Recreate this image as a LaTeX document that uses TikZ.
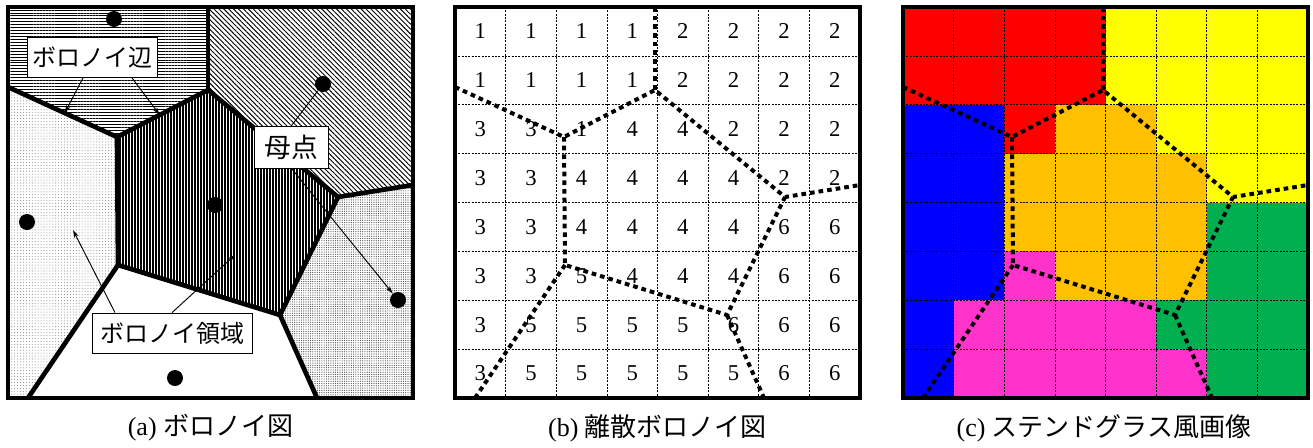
\documentclass[tikz,border=0pt]{standalone}
\usepackage{fontspec}
\setmainfont{Liberation Serif}
\newfontfamily\jpfont{Noto Sans CJK JP}
\usetikzlibrary{arrows.meta,calc,patterns.meta}
\definecolor{cell1}{HTML}{FF0000}
\definecolor{cell2}{HTML}{FFFF00}
\definecolor{cell3}{HTML}{0000FF}
\definecolor{cell4}{HTML}{FFC000}
\definecolor{cell5}{HTML}{FF33CC}
\definecolor{cell6}{HTML}{00B050}
\tikzset{
  panel frame/.style={line width=3pt},
  cell edge/.style={line width=3.5pt, line join=miter},
  dotted edge/.style={line width=3pt, dash pattern=on 3.5pt off 3pt},
  grid line/.style={line width=0.5pt, dash pattern=on 1.5pt off 1pt},
  site/.style={circle, fill, inner sep=0pt, minimum size=12pt},
  label box/.style={draw, fill=white, line width=0.6pt, inner sep=0pt,
    minimum height=30pt, font=\jpfont\fontsize{18}{18}\selectfont},
  callout/.style={line width=0.7pt, -{Stealth[length=6pt, width=3.5pt]}},
  cell num/.style={font=\fontsize{17}{17}\selectfont},
  caption/.style={font=\fontsize{19.5}{20}\selectfont},
}
% Voronoi vertices and where the edges meet the frame
\newcommand\voronoipoints{%
  \coordinate (A) at (117,137);
  \coordinate (B) at (208,90);
  \coordinate (C) at (338,197);
  \coordinate (D) at (280,315);
  \coordinate (E) at (118,265);
  \coordinate (Lt) at (8,87);
  \coordinate (Tp) at (208,7);
  \coordinate (Rt) at (413,185);
  \coordinate (Bd) at (317,398);
  \coordinate (Bl) at (28,398);
}
\newcommand\cellrows{{1,1,1,1,2,2,2,2},{1,1,1,1,2,2,2,2},{3,3,1,4,4,2,2,2},
  {3,3,4,4,4,4,2,2},{3,3,4,4,4,4,6,6},{3,3,5,4,4,4,6,6},
  {3,5,5,5,5,6,6,6},{3,5,5,5,5,5,6,6}}

\begin{document}
\begin{tikzpicture}[x=0.75pt, y=-0.75pt]
  \useasboundingbox (0,0) rectangle (1313,447);

  % (a) Voronoi diagram
  \voronoipoints
  \fill[pattern={Lines[angle=0, distance=2.2pt, line width=0.45pt]}]
    (8,7) -- (Tp) -- (B) -- (A) -- (Lt) -- cycle;
  \fill[pattern={Lines[angle=-45, distance=2.6pt, line width=0.7pt]}]
    (Tp) -- (413,7) -- (Rt) -- (C) -- (B) -- cycle;
  \fill[pattern={Dots[radius=0.4pt, distance=2.2pt]}, pattern color=black!45]
    (Lt) -- (A) -- (E) -- (Bl) -- (8,398) -- cycle;
  \fill[pattern={Lines[angle=90, distance=2.25pt, line width=0.8pt]}]
    (A) -- (B) -- (C) -- (D) -- (E) -- cycle;
  \fill[pattern={Dots[radius=0.45pt, distance=1.7pt]}, pattern color=black!70]
    (C) -- (Rt) -- (413,398) -- (Bd) -- (D) -- cycle;
  \draw[cell edge] (Lt) -- (A) -- (B) -- (C) -- (Rt);
  \draw[cell edge] (Tp) -- (B);
  \draw[cell edge] (A) -- (E) -- (D) -- (C);
  \draw[cell edge] (Bl) -- (E);
  \draw[cell edge] (D) -- (Bd);
  \draw[panel frame] (8,7) rectangle (413,398);

  % sites
  \node[site] (s1) at (114,19) {};
  \node[site] (s2) at (323,84) {};
  \node[site] (s3) at (27,222) {};
  \node[site] (s4) at (215,205) {};
  \node[site] (s5) at (175,378) {};
  \node[site] (s6) at (398,300) {};

  % labels
  \coordinate (e1) at ($(Lt)!0.52!(A)$);
  \coordinate (e2) at ($(A)!0.47!(B)$);
  \coordinate (r1) at (73,230);
  \coordinate (r2) at (235,255);
  \node[label box, minimum width=98pt] (edge label) at (92.5,57.5) {ボロノイ辺};
  \node[label box, minimum width=55pt, minimum height=31.5pt,
    font=\jpfont\fontsize{20}{20}\selectfont] (site label) at (291.5,147) {母点};
  \node[label box, minimum width=120pt] (region label) at (172,333) {ボロノイ領域};
  \draw[callout] ($(edge label.south)+(-9.5,0)$) -- (e1);
  \draw[callout] ($(edge label.south)+(39.5,0)$) -- (e2);
  \draw[line width=0.7pt] (site label.north) -- (s2);
  \draw[callout] (site label.south) -- (s6);
  \draw[callout] ($(region label.north)+(-57,0)$) -- (r1);
  \draw[callout] (region label.north) -- (r2);

  % (b) discrete Voronoi diagram
  \begin{scope}[shift={(447,0)}]
    \foreach \row [count=\j] in \cellrows
      \foreach \v [count=\i] in \row
        \node[cell num] (n\i-\j) at ({8+50.625*(\i-0.5)},{7+48.875*(\j-0.5)}) {\v};
    \foreach \k in {1,...,7} {
      \draw[grid line] ({8+50.625*\k},7) -- ({8+50.625*\k},398);
      \draw[grid line] (8,{7+48.875*\k}) -- (413,{7+48.875*\k});
    }
    \voronoipoints
    \draw[dotted edge] (Lt) -- (A) -- (B) -- (C) -- (Rt);
    \draw[dotted edge] (Tp) -- (B);
    \draw[dotted edge] (A) -- (E) -- (D) -- (C);
    \draw[dotted edge] (Bl) -- (E);
    \draw[dotted edge] (D) -- (Bd);
    \draw[panel frame] (8,7) rectangle (413,398);
  \end{scope}

  % (c) stained glass image
  \begin{scope}[shift={(895,0)}]
    \foreach \row [count=\j] in \cellrows
      \foreach \v [count=\i] in \row
        \fill[cell\v] ({8+50.625*(\i-1)},{7+48.875*(\j-1)}) rectangle +(50.625,48.875);
    \foreach \k in {1,...,7} {
      \draw[grid line] ({8+50.625*\k},7) -- ({8+50.625*\k},398);
      \draw[grid line] (8,{7+48.875*\k}) -- (413,{7+48.875*\k});
    }
    \voronoipoints
    \draw[dotted edge] (Lt) -- (A) -- (B) -- (C) -- (Rt);
    \draw[dotted edge] (Tp) -- (B);
    \draw[dotted edge] (A) -- (E) -- (D) -- (C);
    \draw[dotted edge] (Bl) -- (E);
    \draw[dotted edge] (D) -- (Bd);
    \draw[panel frame] (8,7) rectangle (413,398);
  \end{scope}

  % captions
  \node[caption] (cap a) at (210.5,428) {(a) {\jpfont ボロノイ図}};
  \node[caption] (cap b) at (657.5,428) {(b) {\jpfont 離散ボロノイ図}};
  \node[caption] (cap c) at (1104,428) {(c) {\jpfont ステンドグラス風画像}};
\end{tikzpicture}
\end{document}
